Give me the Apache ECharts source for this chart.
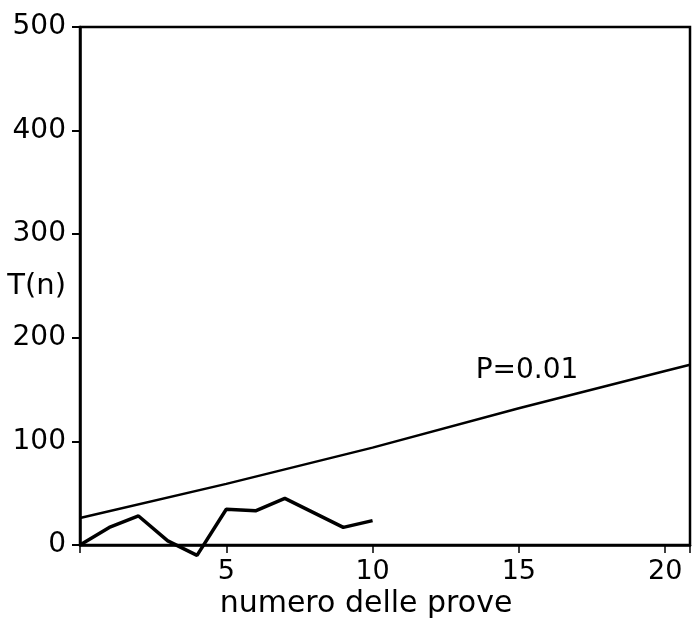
<!DOCTYPE html>
<html lang="it">
<head>
    <meta charset="UTF-8">
    <title>T(n)</title>
    <script src="https://cdn.jsdelivr.net/npm/echarts@6/dist/echarts.min.js"></script>
    <style>
        html, body { margin: 0; padding: 0; background: #ffffff; }
        #chart { width: 692px; height: 619px; }
    </style>
</head>
<body>
<div id="chart"></div>
<script>
    // valori
    var prove = [0, 1, 2, 3, 4, 5, 6, 7, 8, 9, 10];
    var valoriT = [0, 17, 28, 4, -10, 34.5, 33, 45, 31, 17, 23.5];
    var soglia_x = [0, 5, 10, 15, 20, 20.85];
    var soglia_y = [26, 59, 94, 132, 168, 174];
    var sogliaNome = 'P=0.01';
    var xTicks = [5, 10, 15, 20];
    var yTicks = [0, 100, 200, 300, 400, 500];

    var font = 'DejaVu Sans';
    var myChart = echarts.init(document.getElementById('chart'));

    function coppie(xs, ys) {
        var out = [];
        for (var i = 0; i < xs.length; i++) {
            out.push([xs[i], ys[i]]);
        }
        return out;
    }

    var option = {
        backgroundColor: '#ffffff',
        animation: false,
        grid: {
            left: 80,
            right: 2,
            top: 27,
            bottom: 74,
            outerBoundsMode: 'none',
            containLabel: false,
            show: true,
            borderColor: '#000',
            borderWidth: 2.5
        },
        xAxis: {
            type: 'value',
            min: 0,
            max: 20.85,
            interval: 5,
            name: 'numero delle prove',
            nameLocation: 'middle',
            nameGap: 44,
            nameMoveOverlap: false,
            nameTextStyle: {
                color: '#000',
                fontFamily: font,
                fontSize: 30,
                padding: [0, 38, 0, 0]
            },
            axisLine: { show: true, lineStyle: { color: '#000', width: 2.5 } },
            axisTick: { show: true, length: 8, lineStyle: { color: '#000', width: 1.5 } },
            splitLine: { show: false },
            axisLabel: {
                color: '#000',
                fontFamily: font,
                fontSize: 27,
                margin: 13,
                formatter: function (v) {
                    return xTicks.indexOf(v) >= 0 ? String(v) : '';
                }
            }
        },
        yAxis: {
            type: 'value',
            min: 0,
            max: 500,
            interval: 100,
            name: 'T(n)',
            nameLocation: 'middle',
            nameRotate: 0,
            nameGap: 14,
            nameMoveOverlap: false,
            nameTextStyle: {
                color: '#000',
                fontFamily: font,
                fontSize: 29,
                align: 'right',
                verticalAlign: 'middle',
                padding: [0, 0, 16, 0]
            },
            axisLine: { show: true, lineStyle: { color: '#000', width: 2.5 } },
            axisTick: { show: true, length: 8, lineStyle: { color: '#000', width: 2 } },
            splitLine: { show: false },
            axisLabel: {
                color: '#000',
                fontFamily: font,
                fontSize: 28,
                margin: 14,
                formatter: function (v) {
                    return yTicks.indexOf(v) >= 0 ? String(v) : '';
                }
            }
        },
        series: [
            {
                name: sogliaNome,
                type: 'line',
                data: coppie(soglia_x, soglia_y),
                symbol: 'none',
                lineStyle: { color: '#000', width: 2.5 },
                markPoint: {
                    symbol: 'circle',
                    symbolSize: 0,
                    data: [{ coord: [15.28, 168], value: sogliaNome }],
                    label: {
                        show: true,
                        position: 'inside',
                        formatter: sogliaNome,
                        color: '#000',
                        fontFamily: font,
                        fontSize: 28
                    }
                }
            },
            {
                name: 'T(n)',
                type: 'line',
                data: coppie(prove, valoriT),
                symbol: 'none',
                clip: false,
                lineStyle: { color: '#000', width: 3.5 }
            }
        ]
    };

    myChart.setOption(option);
</script>
</body>
</html>
